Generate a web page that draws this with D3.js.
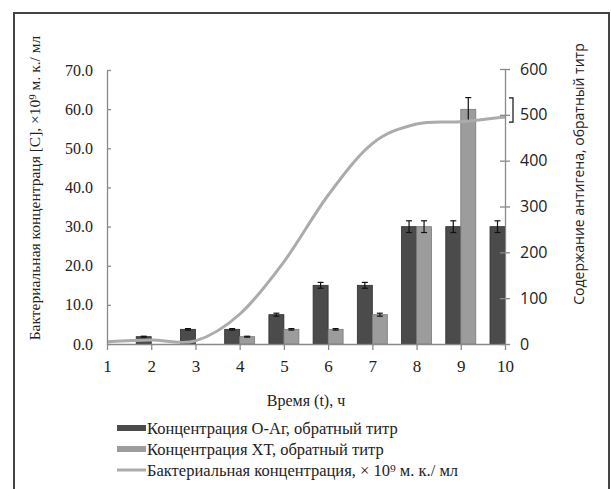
<!DOCTYPE html>
<html>
<head>
<meta charset="utf-8">
<script src="https://cdn.jsdelivr.net/npm/d3@7"></script>
<style>
  body { margin: 0; background: #fff; }
  text { fill: #222; }
</style>
</head>
<body>
<svg id="chart" width="611" height="489"></svg>
<script>
// hours
var hours = [1, 2, 3, 4, 5, 6, 7, 8, 9, 10];
// reciprocal titres (right axis)
var oag = [0, 16, 32, 32, 64, 128, 128, 256, 256, 256];
var oagErr = [0, 1, 1.6, 1.6, 3.2, 6.4, 6.4, 12.8, 12.8, 12.8];
var xt = [0, 0, 0, 16, 32, 32, 64, 256, 512, 0];
var xtErr = [0, 0, 0, 1, 1.6, 1.6, 3.2, 12.8, 25.6, 0];
// bacterial concentration, x10^9 (left axis)
var bact = [0.6, 1.0, 0.8, 7.6, 21, 38, 51.2, 56.2, 56.8, 58];

var leftTicks = [0, 10, 20, 30, 40, 50, 60, 70];
var rightTicks = [0, 100, 200, 300, 400, 500, 600];

var legendNames = ["Концентрация О-Аг, обратный титр",
                   "Концентрация ХТ, обратный титр",
                   "Бактериальная концентрация, × 10⁹ м. к./ мл"];

var serifFont = "'Liberation Serif', serif";
var sansFont = "'Open Sans', 'Noto Sans', sans-serif";
var dark = "#4b4b4b", light = "#9c9c9c", lineCol = "#ababab", axisCol = "#8a8a8a";

var svg = d3.select("#chart");

// frame
svg.append("rect")
    .attr("x", 14).attr("y", 13)
    .attr("width", 595).attr("height", 500)
    .attr("fill", "none").attr("stroke", "#444").attr("stroke-width", 2);

var x = d3.scaleLinear().domain([1, 10]).range([107, 505]);
var yL = d3.scaleLinear().domain([0, 70]).range([344, 70]);
var yR = d3.scaleLinear().domain([0, 600]).range([344, 69]);
var bw = 15;

// bars
var g = svg.append("g");
g.selectAll(".oag").data(hours).enter().append("rect")
    .attr("x", function(d) { return x(d) - bw; })
    .attr("y", function(d, i) { return yR(oag[i]); })
    .attr("width", bw)
    .attr("height", function(d, i) { return yR(0) - yR(oag[i]); })
    .attr("fill", dark).attr("stroke", "#2e2e2e").attr("stroke-width", 0.8)
    .style("display", function(d, i) { return oag[i] > 0 ? null : "none"; });

g.selectAll(".xt").data(hours).enter().append("rect")
    .attr("x", function(d) { return x(d); })
    .attr("y", function(d, i) { return yR(xt[i]); })
    .attr("width", bw)
    .attr("height", function(d, i) { return yR(0) - yR(xt[i]); })
    .attr("fill", light).attr("stroke", "#7a7a7a").attr("stroke-width", 0.8)
    .style("display", function(d, i) { return xt[i] > 0 ? null : "none"; });

// error bars
function errBars(vals, errs, off) {
  hours.forEach(function(h, i) {
    if (!(vals[i] > 0)) return;
    var cx = x(h) + off;
    var t = yR(vals[i] + errs[i]), b = yR(vals[i] - errs[i]);
    var e = g.append("g").attr("stroke", "#111").attr("stroke-width", 1.2);
    e.append("line").attr("x1", cx).attr("x2", cx).attr("y1", t).attr("y2", b);
    e.append("line").attr("x1", cx - 3).attr("x2", cx + 3).attr("y1", t).attr("y2", t);
    e.append("line").attr("x1", cx - 3).attr("x2", cx + 3).attr("y1", b).attr("y2", b);
  });
}
errBars(oag, oagErr, -bw / 2);
errBars(xt, xtErr, bw / 2);

// stray bracket next to right axis
svg.append("path")
    .attr("d", "M" + (x(10) + 4) + "," + yR(537) + "H" + (x(10) + 8) + "V" + yR(484) + "H" + (x(10) + 4))
    .attr("fill", "none").attr("stroke", "#111").attr("stroke-width", 1.2);

// line
var line = d3.line()
    .x(function(d, i) { return x(hours[i]); })
    .y(function(d) { return yL(d); })
    .curve(d3.curveCardinal.tension(0));
svg.append("path").datum(bact)
    .attr("d", line)
    .attr("fill", "none").attr("stroke", lineCol).attr("stroke-width", 3);

// axes
function styleAxis(sel) {
  sel.attr("font-family", null);
  sel.select(".domain").attr("stroke", axisCol).attr("stroke-width", 1.3);
  sel.selectAll(".tick line").attr("stroke", axisCol).attr("stroke-width", 1.3);
}

var axL = svg.append("g").attr("transform", "translate(107,0)")
    .call(d3.axisLeft(yL).tickValues(leftTicks).tickFormat(d3.format(".1f")).tickSize(4).tickSizeOuter(0).tickPadding(10));
axL.selectAll(".tick line").attr("x2", 4);
styleAxis(axL);
axL.selectAll("text").style("font-family", serifFont).style("font-size", "16px").attr("fill", "#222");

var axR = svg.append("g").attr("transform", "translate(505,0)")
    .call(d3.axisRight(yR).tickValues(rightTicks).tickSize(5).tickSizeOuter(0).tickPadding(10));
axR.selectAll(".tick line").attr("x1", -5);
styleAxis(axR);
axR.selectAll("text").style("font-family", sansFont).style("font-size", "16px").attr("fill", "#222");

var axX = svg.append("g").attr("transform", "translate(0,344)")
    .call(d3.axisBottom(x).tickValues(hours).tickFormat(d3.format("d")).tickSize(6).tickSizeOuter(0).tickPadding(10));
styleAxis(axX);
axX.selectAll("text").style("font-family", serifFont).style("font-size", "17px").attr("fill", "#222");

// titles
svg.append("text")
    .attr("transform", "translate(40,188) rotate(-90)")
    .attr("text-anchor", "middle")
    .style("font-family", serifFont).style("font-size", "15.5px")
    .text("Бактериальная концентраця [C], ×10⁹ м. к./ мл");

svg.append("text")
    .attr("transform", "translate(584,174) rotate(-90)")
    .attr("text-anchor", "middle")
    .style("font-family", sansFont).style("font-size", "14px")
    .text("Содержание антигена, обратный титр");

svg.append("text")
    .attr("x", 306).attr("y", 406)
    .attr("text-anchor", "middle")
    .style("font-family", serifFont).style("font-size", "16px")
    .text("Время (t), ч");

// legend
var lg = svg.append("g");
legendNames.forEach(function(name, i) {
  var cy = 428 + i * 21;
  if (i < 2) {
    lg.append("rect").attr("x", 117).attr("y", cy - 3).attr("width", 29).attr("height", 6)
      .attr("fill", i === 0 ? dark : light);
  } else {
    lg.append("line").attr("x1", 117).attr("x2", 146).attr("y1", cy).attr("y2", cy)
      .attr("stroke", lineCol).attr("stroke-width", 3);
  }
  lg.append("text").attr("x", 147).attr("y", cy + 5.5)
    .style("font-family", serifFont).style("font-size", "16.5px")
    .text(name);
});
</script>
</body>
</html>
